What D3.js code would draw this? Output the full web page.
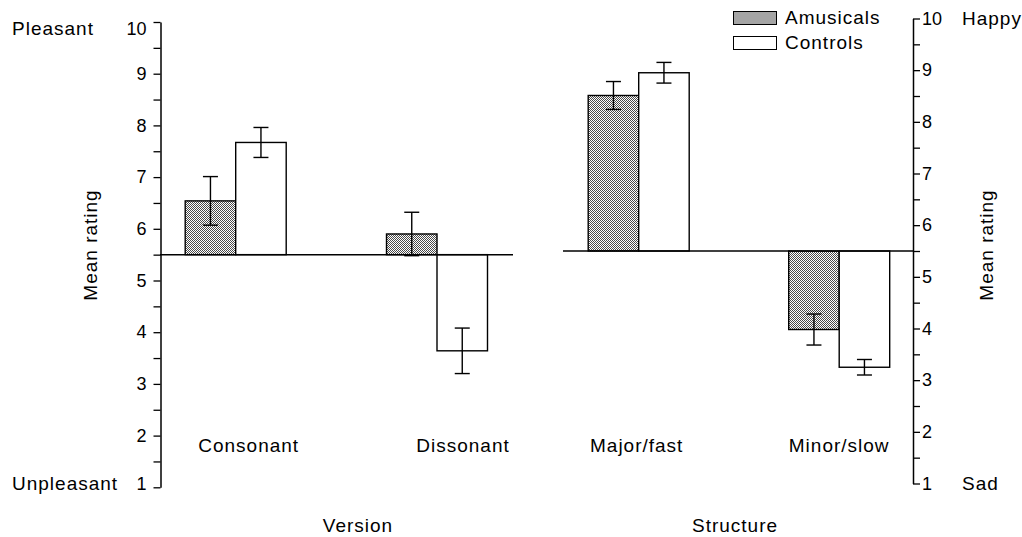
<!DOCTYPE html>
<html>
<head>
<meta charset="utf-8">
<script src="https://cdn.jsdelivr.net/npm/d3@7"></script>
<style>
  html, body { margin: 0; padding: 0; background: #fff; }
  svg { display: block; }
  text { font-family: "Liberation Sans", Arial, Helvetica, sans-serif; fill: #000; }
</style>
</head>
<body>
<svg id="chart" width="1022" height="537"></svg>
<script>
// Mean ratings (1-10 scale) with error bars, two groups per condition
const series = ["Amusicals", "Controls"];

const versionCategories = ["Consonant", "Dissonant"];
const versionAmusicals = [6.54, 5.90];
const versionAmusicalsErr = [0.47, 0.42];
const versionControls = [7.67, 3.64];
const versionControlsErr = [0.29, 0.44];

const structureCategories = ["Major/fast", "Minor/slow"];
const structureAmusicals = [8.51, 3.98];
const structureAmusicalsErr = [0.27, 0.30];
const structureControls = [8.95, 3.25];
const structureControlsErr = [0.20, 0.15];

const tickValues = [1, 1.5, 2, 2.5, 3, 3.5, 4, 4.5, 5, 5.5, 6, 6.5, 7, 7.5, 8, 8.5, 9, 9.5, 10];
const neutral = 5.5;

const svg = d3.select("#chart");

// Stippled fill for the Amusicals bars
const defs = svg.append("defs");
const pat = defs.append("pattern")
  .attr("id", "stipple")
  .attr("width", 2).attr("height", 2)
  .attr("patternUnits", "userSpaceOnUse");
pat.append("rect").attr("width", 2).attr("height", 2).attr("fill", "#fff");
pat.append("rect").attr("x", 0).attr("y", 0).attr("width", 1).attr("height", 1).attr("fill", "#4a4a4a");
pat.append("rect").attr("x", 1).attr("y", 1).attr("width", 1).attr("height", 1).attr("fill", "#4a4a4a");

const fills = { Amusicals: "url(#stipple)", Controls: "#fff" };

const barW = 50.5;
const capW = 15;
const labelFont = 19;
const tickFont = 18;

function panel(cfg) {
  const y = d3.scaleLinear().domain([1, 10]).range([cfg.yBottom, cfg.yTop]);
  const x = d3.scalePoint().domain(cfg.categories).range(cfg.xRange);
  const inner = d3.scaleBand().domain(series).range([-barW, barW]).padding(0);

  const rows = [];
  cfg.categories.forEach((c, i) => {
    rows.push({ cat: c, s: "Amusicals", v: cfg.amus[i], e: cfg.amusErr[i] });
    rows.push({ cat: c, s: "Controls", v: cfg.ctrl[i], e: cfg.ctrlErr[i] });
  });

  const g = svg.append("g");

  // bars grow from the neutral midpoint
  g.selectAll("rect.bar").data(rows).join("rect")
    .attr("class", "bar")
    .attr("x", d => x(d.cat) + inner(d.s))
    .attr("width", inner.bandwidth())
    .attr("y", d => y(Math.max(d.v, neutral)))
    .attr("height", d => Math.abs(y(d.v) - y(neutral)))
    .attr("fill", d => fills[d.s])
    .attr("stroke", "#000")
    .attr("stroke-width", 1.4);

  // neutral baseline
  g.append("line")
    .attr("x1", cfg.baseX[0]).attr("x2", cfg.baseX[1])
    .attr("y1", y(neutral)).attr("y2", y(neutral))
    .attr("stroke", "#000").attr("stroke-width", 1.5);

  // error bars
  const eb = g.selectAll("g.err").data(rows).join("g").attr("class", "err")
    .attr("stroke", "#000").attr("stroke-width", 1.4);
  const cx = d => x(d.cat) + inner(d.s) + inner.bandwidth() / 2;
  eb.append("line")
    .attr("x1", cx).attr("x2", cx)
    .attr("y1", d => y(d.v + d.e)).attr("y2", d => y(d.v - d.e));
  eb.append("line")
    .attr("x1", d => cx(d) - capW / 2).attr("x2", d => cx(d) + capW / 2)
    .attr("y1", d => y(d.v + d.e)).attr("y2", d => y(d.v + d.e));
  eb.append("line")
    .attr("x1", d => cx(d) - capW / 2).attr("x2", d => cx(d) + capW / 2)
    .attr("y1", d => y(d.v - d.e)).attr("y2", d => y(d.v - d.e));

  // axis
  const axis = (cfg.side === "left" ? d3.axisLeft(y) : d3.axisRight(y))
    .tickValues(tickValues)
    .tickFormat(v => Number.isInteger(v) ? String(v) : "")
    .tickSize(7).tickSizeOuter(0)
    .tickPadding(cfg.side === "left" ? 7 : 2);
  const ag = g.append("g")
    .attr("transform", `translate(${cfg.axisX},0)`)
    .call(axis);
  ag.select(".domain").attr("stroke", "#000").attr("stroke-width", 1.5);
  ag.selectAll(".tick line").attr("stroke", "#000").attr("stroke-width", 1.3);
  ag.selectAll(".tick text")
    .style("font-family", '"Liberation Sans", Arial, sans-serif')
    .style("font-size", tickFont + "px")
    .attr("fill", "#000");
  // end labels sit level with the anchor words
  ag.selectAll(".tick text")
    .filter(d => d === 10)
    .attr("transform", `translate(0,${cfg.endTickShift[1]})`);
  ag.selectAll(".tick text")
    .filter(d => d === 1)
    .attr("transform", `translate(0,${cfg.endTickShift[0]})`);

  // category labels
  g.selectAll("text.cat").data(cfg.categories).join("text")
    .attr("class", "cat")
    .attr("x", (d, i) => x(d) + cfg.labelShift[i])
    .attr("y", 452)
    .attr("text-anchor", "middle")
    .style("font-size", labelFont + "px")
    .style("letter-spacing", "1px")
    .text(d => d);

  // x title
  g.append("text")
    .attr("x", cfg.titleX).attr("y", 532)
    .attr("text-anchor", "middle")
    .style("font-size", labelFont + "px")
    .style("letter-spacing", "1px")
    .text(cfg.title);

  // y title
  g.append("text")
    .attr("transform", `translate(${cfg.yTitleX},245) rotate(-90)`)
    .attr("text-anchor", "middle")
    .style("font-size", labelFont + "px")
    .style("letter-spacing", "1px")
    .text("Mean rating");

  // scale end anchors
  g.append("text")
    .attr("x", cfg.endX).attr("y", y(10) + cfg.topDy)
    .attr("text-anchor", "start")
    .style("font-size", labelFont + "px")
    .style("letter-spacing", "1px")
    .text(cfg.topWord);
  g.append("text")
    .attr("x", cfg.endX).attr("y", y(1) + cfg.botDy)
    .attr("text-anchor", "start")
    .style("font-size", labelFont + "px")
    .style("letter-spacing", "1px")
    .text(cfg.bottomWord);

  return { y, x };
}

panel({
  side: "left",
  categories: versionCategories,
  amus: versionAmusicals, amusErr: versionAmusicalsErr,
  ctrl: versionControls, ctrlErr: versionControlsErr,
  yTop: 22, yBottom: 487.3,
  xRange: [235.7, 437],
  baseX: [160, 513],
  axisX: 160.5,
  endTickShift: [-4, 7],
  labelShift: [13, 26],
  title: "Version", titleX: 358,
  yTitleX: 96.5,
  endX: 12, topDy: 13, botDy: 3,
  topWord: "Pleasant", bottomWord: "Unpleasant"
});

panel({
  side: "right",
  categories: structureCategories,
  amus: structureAmusicals, amusErr: structureAmusicalsErr,
  ctrl: structureControls, ctrlErr: structureControlsErr,
  yTop: 18.5, yBottom: 483.5,
  xRange: [638.7, 839.2],
  baseX: [563, 913],
  axisX: 913,
  endTickShift: [0, 0],
  labelShift: [-2, 0],
  title: "Structure", titleX: 735,
  yTitleX: 993,
  endX: 962, topDy: 6.5, botDy: 6.5,
  topWord: "Happy", bottomWord: "Sad"
});

// legend
const legend = svg.append("g").attr("transform", "translate(733.5,0)");
series.forEach((s, i) => {
  const row = legend.append("g").attr("transform", `translate(0,${11.5 + i * 25})`);
  row.append("rect")
    .attr("width", 43).attr("height", 13)
    .attr("fill", fills[s]).attr("stroke", "#000").attr("stroke-width", 1);
  row.append("text")
    .attr("x", 51.5).attr("y", 12.5)
    .style("font-size", labelFont + "px")
    .style("letter-spacing", "1px")
    .text(s);
});
</script>
</body>
</html>
